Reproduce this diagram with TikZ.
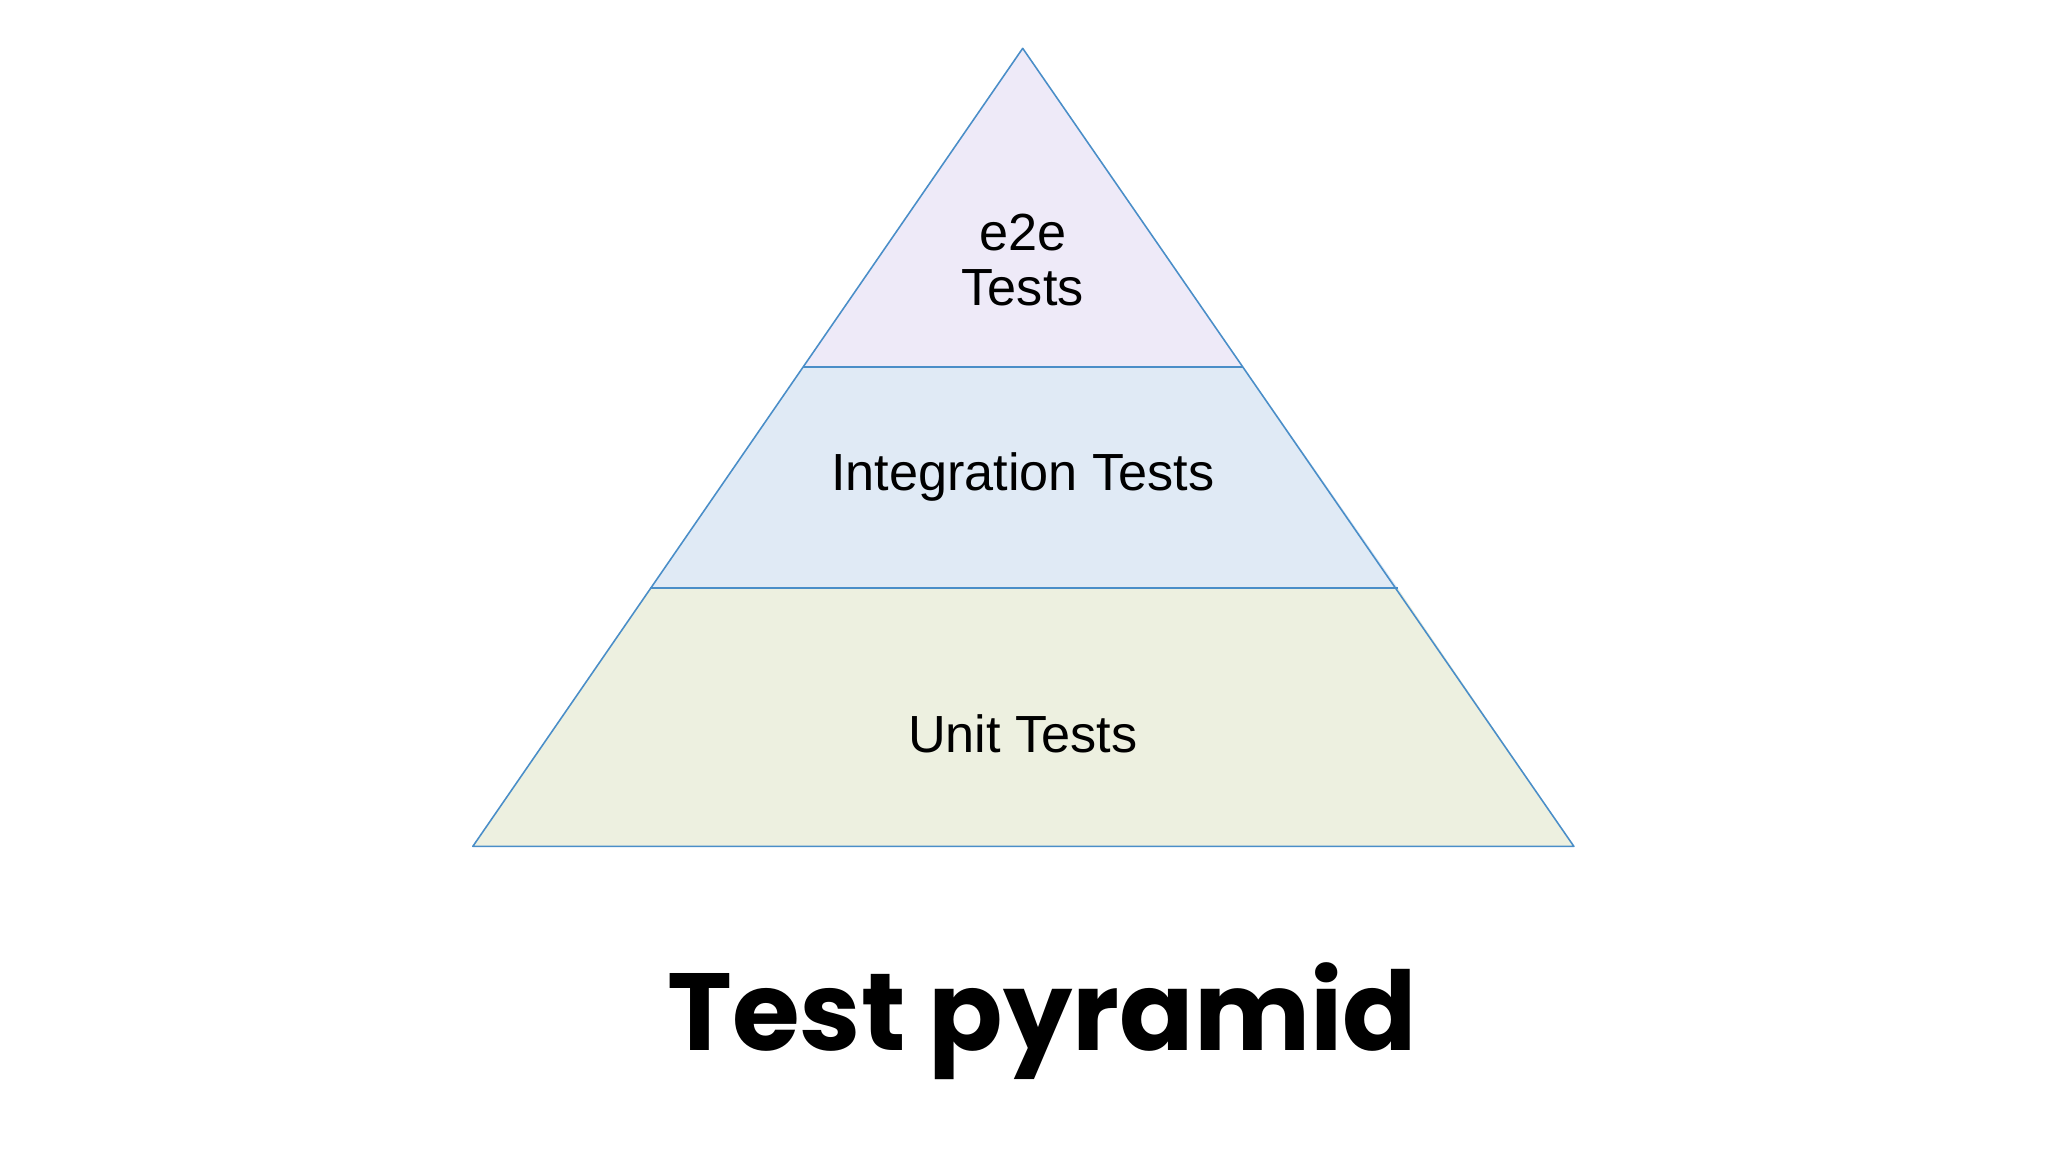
\documentclass[tikz,border=0pt]{standalone}
\usepackage{fontspec}
\setmainfont{Liberation Sans}
\newfontfamily\titlefont{Poppins}
\definecolor{topc}{RGB}{238,234,248}
\definecolor{midc}{RGB}{224,234,245}
\definecolor{botc}{RGB}{237,240,224}
\definecolor{edge}{RGB}{74,142,200}
\begin{document}
\begin{tikzpicture}[x=1pt,y=-1pt,
  band/.style={draw=edge,line width=1.2pt,line join=round},
  lbl/.style={font=\fontsize{40}{46}\selectfont,align=center,text=black}]
\useasboundingbox (0,0) rectangle (1568,882);
\fill[white] (0,0) rectangle (1568,882);
\coordinate (apex) at (783,37);
\coordinate (bl) at (362,648);
\coordinate (br) at (1205,648);
\coordinate (t1l) at (615,281);
\coordinate (t1r) at (952,281);
\coordinate (t2l) at (498,450);
\coordinate (t2r) at (1070,450);
\fill[botc] (t2l) -- (t2r) -- (br) -- (bl) -- cycle;
\fill[midc] (t1l) -- (t1r) -- (t2r) -- (t2l) -- cycle;
\fill[topc] (apex) -- (t1r) -- (t1l) -- cycle;
\draw[band] (apex) -- (br) -- (bl) -- cycle;
\draw[band] (t1l) -- (t1r);
\draw[band] (t2l) -- (t2r);
\node[lbl] (e2e) at (783,199) {e2e\\[-4pt]Tests};
\node[lbl] (integ) at (783,365) {Integration Tests};
\node[lbl] (unit) at (783,562) {Unit Tests};
\node[font=\titlefont\bfseries\fontsize{84}{90}\selectfont] (title) at (798,782) {Test pyramid};
\end{tikzpicture}
\end{document}
